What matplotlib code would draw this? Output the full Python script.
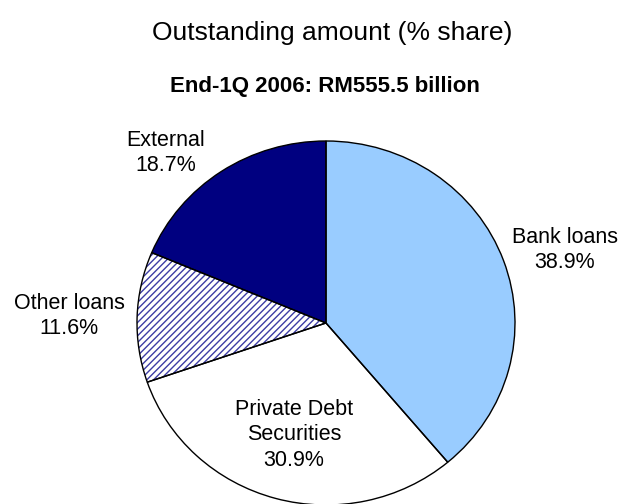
import matplotlib
matplotlib.use("Agg")
import matplotlib.pyplot as plt

plt.rcParams['font.family'] = ['Liberation Sans', 'DejaVu Sans']
plt.rcParams['hatch.linewidth'] = 1.0

# Outstanding amount by source, % share
categories = ["Bank loans", "Private Debt\nSecurities", "Other loans", "External"]
shares = [38.9, 30.9, 11.6, 18.7]
title = "Outstanding amount (% share)"
subtitle = "End-1Q 2006: RM555.5 billion"

W, H = 626, 504
fig = plt.figure(figsize=(W / 100, H / 100), dpi=100)
ax = fig.add_axes([0, 0, 1, 1])

# pie centre and radii in pixels (slightly wider than tall)
cx, cy, rx, ry = 326, 323, 189, 182

face = ["#99CCFF", "white", "white", "#000080"]
wedges, _ = ax.pie(shares, colors=face, startangle=90, counterclock=False,
                   radius=1, wedgeprops=dict(linewidth=0))
# hatched fill for "Other loans"
wedges[2].set_hatch("/////")
wedges[2].set_edgecolor("#3c3ca4")

# black outlines on top
outl, _ = ax.pie(shares, colors=["none"] * 4, startangle=90, counterclock=False,
                 radius=1, wedgeprops=dict(linewidth=1.0, edgecolor="black",
                                           fill=False))

ax.set_aspect("auto")
ax.set_xlim(-cx / rx, (W - cx) / rx)
ax.set_ylim(-(H - cy) / ry, cy / ry)
ax.axis("off")


def px(x, y):
    return x / W, 1 - y / H


fig.text(*px(332, 33), title, ha="center", va="center", fontsize=19)
fig.text(*px(325, 86), subtitle, ha="center", va="center", fontsize=16,
         fontweight="bold")

label_pos = [(565, 250), (294, 435), (69, 316), (166, 153)]
for name, val, (lx, ly) in zip(categories, shares, label_pos):
    fig.text(*px(lx, ly), f"{name}\n{val:.1f}%", ha="center", va="center",
             fontsize=15.5, linespacing=1.3)

fig.savefig("out.png", dpi=100)
